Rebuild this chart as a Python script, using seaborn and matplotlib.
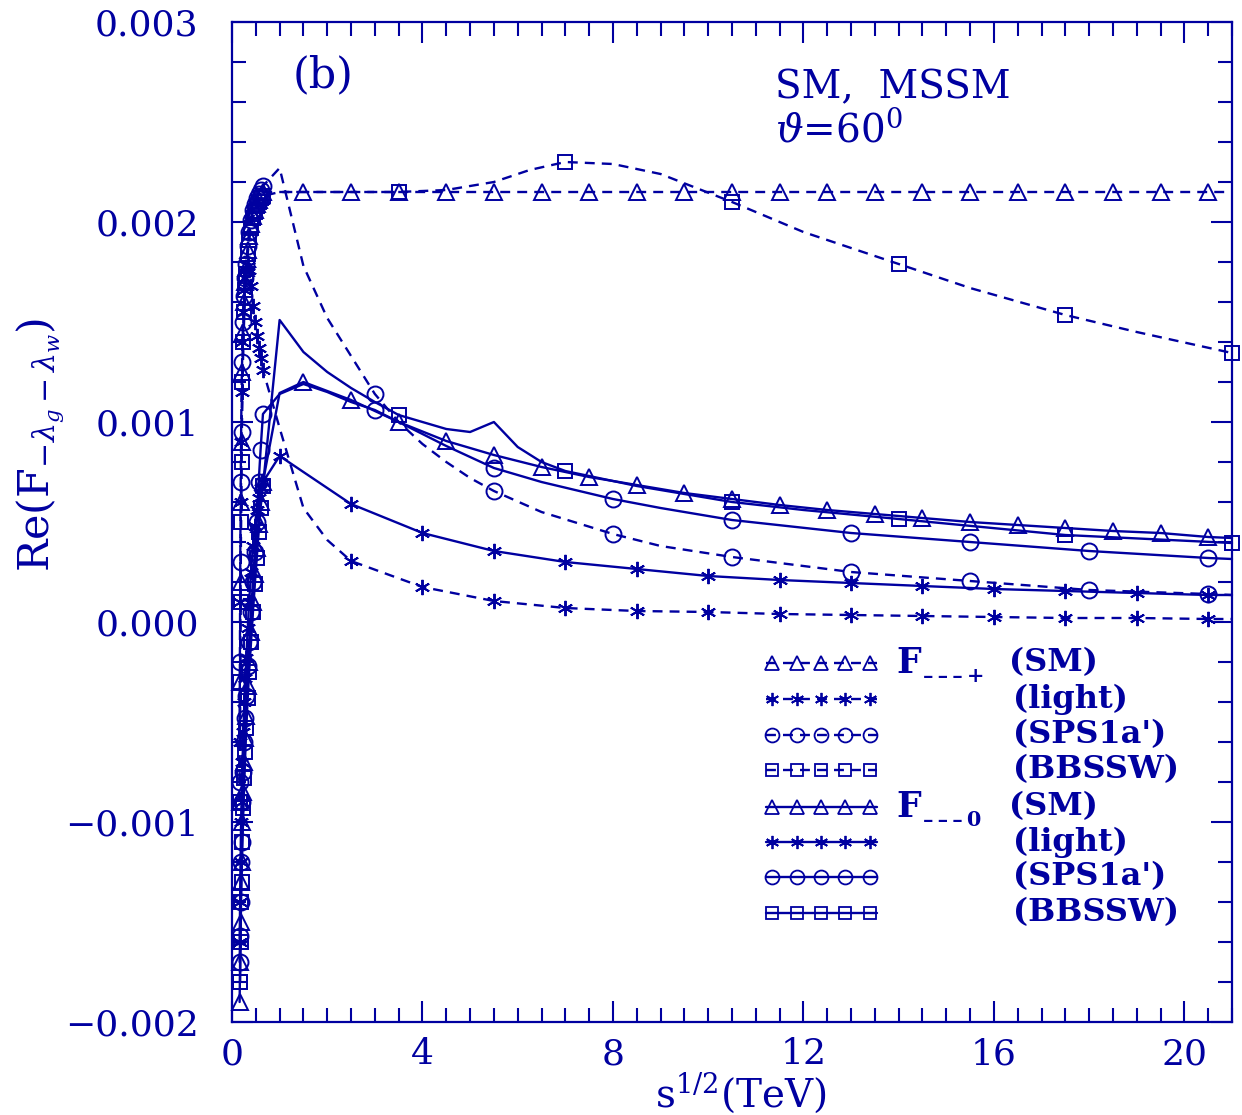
import matplotlib
matplotlib.use('Agg')
import matplotlib.pyplot as plt
from matplotlib.ticker import MultipleLocator, FuncFormatter
import pandas as pd
import seaborn as sns

NAVY = '#0000a0'

# gemeinsames Raster nahe der Schwelle (TeV)
x_low = [0.16, 0.17, 0.18, 0.19, 0.20, 0.22, 0.24, 0.26, 0.28, 0.30,
         0.33, 0.36, 0.40, 0.44, 0.48, 0.52, 0.56, 0.60, 0.65]

# --- F_{---+} (gestrichelt) ---
y_low_p_sm = [-0.0009, -0.0003, 0.0002, 0.0006, 0.0009, 0.00125, 0.00145, 0.0016, 0.0017, 0.00177,
              0.00186, 0.00193, 0.00199, 0.00203, 0.00206, 0.00209, 0.00211, 0.00213, 0.00215]
x_hi_p_sm = [1.5, 2.5, 3.5, 4.5, 5.5, 6.5, 7.5, 8.5, 9.5, 10.5, 11.5, 12.5, 13.5, 14.5,
             15.5, 16.5, 17.5, 18.5, 19.5, 20.5, 21.0]
y_hi_p_sm = [0.00215, 0.00215, 0.00215, 0.00215, 0.00215, 0.00215, 0.00215, 0.00215, 0.00215, 0.00215,
             0.00215, 0.00215, 0.00215, 0.00215, 0.00215, 0.00215, 0.00215, 0.00215, 0.00215, 0.00215, 0.00215]
mk_p_sm = x_hi_p_sm[:-1]

y_low_p_light = [-0.0006, 0.0001, 0.0006, 0.0009, 0.00115, 0.0014, 0.00155, 0.00166, 0.00172, 0.00176,
                 0.00178, 0.00176, 0.00168, 0.00158, 0.0015, 0.00143, 0.00137, 0.00132, 0.00126]
x_hi_p_light = [1.0, 1.5, 2.0, 2.5, 4.0, 5.5, 7.0, 8.5, 10.0, 11.5, 13.0, 14.5, 16.0, 17.5, 19.0, 20.5, 21.0]
y_hi_p_light = [0.00097, 0.00057, 0.00041, 0.000305, 0.000175, 0.000105, 0.00007, 0.000055, 0.00005,
                0.00004, 0.000035, 0.00003, 0.000025, 0.00002, 0.00002, 0.000015, 0.000015]
mk_p_light = [2.5, 4.0, 5.5, 7.0, 8.5, 10.0, 11.5, 13.0, 14.5, 16.0, 17.5, 19.0, 20.5]

y_low_p_sps = [-0.0008, -0.0002, 0.0003, 0.0007, 0.00095, 0.0013, 0.0015, 0.00163, 0.00172, 0.00179,
               0.00188, 0.00195, 0.00201, 0.00206, 0.00209, 0.00212, 0.00214, 0.00216, 0.00218]
x_hi_p_sps = [1.0, 1.5, 2.0, 2.5, 3.0, 3.5, 4.0, 4.5, 5.0, 5.5, 6.5, 8.0, 9.0, 10.5, 12.0, 13.0,
              15.5, 18.0, 20.5, 21.0]
y_hi_p_sps = [0.00227, 0.00178, 0.00152, 0.00133, 0.00114, 0.001, 0.00089, 0.0008, 0.00072, 0.000655,
              0.00055, 0.00044, 0.00038, 0.000325, 0.00028, 0.00025, 0.000205, 0.00016, 0.00014, 0.000135]
mk_p_sps = [3.0, 5.5, 8.0, 10.5, 13.0, 15.5, 18.0, 20.5]

y_low_p_bb = [-0.0009, -0.0003, 0.0001, 0.0005, 0.0008, 0.0012, 0.0014, 0.00155, 0.00166, 0.00174,
              0.00184, 0.00191, 0.00197, 0.00202, 0.00205, 0.00208, 0.0021, 0.00212, 0.00213]
x_hi_p_bb = [1.0, 2.0, 3.5, 4.5, 5.5, 6.25, 7.0, 8.0, 9.0, 10.5, 12.0, 14.0, 15.5, 17.5, 19.0, 21.0]
y_hi_p_bb = [0.00215, 0.00215, 0.00215, 0.00216, 0.0022, 0.00226, 0.0023, 0.00229, 0.00224, 0.0021,
             0.00195, 0.00179, 0.00167, 0.001535, 0.00145, 0.001345]
mk_p_bb = [3.5, 7.0, 10.5, 14.0, 17.5, 21.0]

# --- F_{---0} (durchgezogen) ---
y_low_0_sm = [-0.0019, -0.0017, -0.0015, -0.0013, -0.0012, -0.001, -0.00085, -0.0007, -0.00058, -0.00047,
              -0.00032, -0.0002, -0.00005, 0.0001, 0.00024, 0.00037, 0.00049, 0.0006, 0.0007]
x_hi_0_sm = [1.0, 1.5, 2.5, 3.5, 4.5, 5.5, 6.5, 7.5, 8.5, 9.5, 10.5, 11.5, 12.5, 13.5, 14.5,
             15.5, 16.5, 17.5, 18.5, 19.5, 20.5, 21.0]
y_hi_0_sm = [0.001145, 0.0012, 0.00111, 0.001, 0.000905, 0.000835, 0.000775, 0.000725, 0.000685, 0.000645,
             0.000615, 0.000585, 0.00056, 0.00054, 0.00052, 0.0005, 0.000485, 0.00047, 0.000455, 0.000445,
             0.000425, 0.00042]
mk_0_sm = x_hi_0_sm[1:-1]

y_low_0_light = [-0.0016, -0.0014, -0.0012, -0.001, -0.0009, -0.0007, -0.00055, -0.0004, -0.00028, -0.00018,
                 -0.00003, 0.0001, 0.00025, 0.00038, 0.00048, 0.00056, 0.00062, 0.00067, 0.0007]
x_hi_0_light = [1.0, 2.5, 4.0, 5.5, 7.0, 8.5, 10.0, 11.5, 13.0, 14.5, 16.0, 17.5, 19.0, 20.5, 21.0]
y_hi_0_light = [0.00083, 0.00059, 0.000445, 0.000355, 0.0003, 0.000265, 0.00023, 0.00021, 0.000195,
                0.00018, 0.000165, 0.000155, 0.000145, 0.000135, 0.000135]
mk_0_light = x_hi_0_light[:-1]

y_low_0_sps = [-0.0017, -0.00157, -0.0014, -0.0012, -0.0011, -0.0009, -0.00075, -0.0006, -0.00048, -0.00037,
               -0.00022, -0.0001, 0.00005, 0.0002, 0.00035, 0.0005, 0.0007, 0.00086, 0.00104]
x_hi_0_sps = [1.0, 1.5, 2.0, 2.5, 3.0, 3.5, 4.0, 4.5, 5.5, 6.5, 8.0, 9.0, 10.5, 13.0, 15.5, 18.0, 20.5, 21.0]
y_hi_0_sps = [0.00114, 0.00119, 0.00115, 0.0011, 0.00106, 0.001, 0.00094, 0.00088, 0.00077, 0.0007,
              0.000615, 0.00057, 0.00051, 0.000445, 0.0004, 0.000355, 0.00032, 0.000315]
mk_0_sps = [3.0, 5.5, 8.0, 10.5, 13.0, 15.5, 18.0, 20.5]

y_low_0_bb = [-0.0018, -0.0018, -0.0016, -0.0014, -0.0013, -0.0011, -0.00093, -0.00078, -0.00065, -0.00053,
              -0.00038, -0.00025, -0.0001, 0.00005, 0.00019, 0.00032, 0.00045, 0.00057, 0.00068]
x_hi_0_bb = [1.0, 1.5, 2.0, 2.5, 3.0, 3.5, 4.0, 4.5, 5.0, 5.5, 6.0, 6.5, 7.0, 8.5, 10.5, 12.0, 14.0, 17.5, 21.0]
y_hi_0_bb = [0.00151, 0.00135, 0.00125, 0.00117, 0.0011, 0.001035, 0.001, 0.000965, 0.00095, 0.001,
             0.000875, 0.0008, 0.000755, 0.00068, 0.0006, 0.00056, 0.000515, 0.000435, 0.000395]
mk_0_bb = [3.5, 7.0, 10.5, 14.0, 17.5, 21.0]

labels = ['(SM)', '(light)', "(SPS1a')", '(BBSSW)']
amp_sub = ['\u2013\u2009\u2013\u2009\u2013\u2009+', '\u2013\u2009\u2013\u2009\u2013\u20090']
markers = ['^', (6, 2, 0), 'o', 's']
msizes = [12, 11, 11.5, 10]
DASH = (0, (4.2, 3.0))
LW = 1.7


def build(y_low, x_hi, y_hi, marks):
    x = list(x_low) + list(x_hi)
    y = list(y_low) + list(y_hi)
    idx = list(range(len(x_low))) + [len(x_low) + i for i, v in enumerate(x_hi) if v in marks]
    return pd.DataFrame({'x': x, 'y': y}), idx


series = [
    (build(y_low_p_sm, x_hi_p_sm, y_hi_p_sm, mk_p_sm), 0, DASH),
    (build(y_low_p_light, x_hi_p_light, y_hi_p_light, mk_p_light), 1, DASH),
    (build(y_low_p_sps, x_hi_p_sps, y_hi_p_sps, mk_p_sps), 2, DASH),
    (build(y_low_p_bb, x_hi_p_bb, y_hi_p_bb, mk_p_bb), 3, DASH),
    (build(y_low_0_sm, x_hi_0_sm, y_hi_0_sm, mk_0_sm), 0, '-'),
    (build(y_low_0_light, x_hi_0_light, y_hi_0_light, mk_0_light), 1, '-'),
    (build(y_low_0_sps, x_hi_0_sps, y_hi_0_sps, mk_0_sps), 2, '-'),
    (build(y_low_0_bb, x_hi_0_bb, y_hi_0_bb, mk_0_bb), 3, '-'),
]

sns.set_theme(style='ticks')
plt.rcParams['font.family'] = ['DejaVu Serif']
plt.rcParams['mathtext.fontset'] = 'dejavuserif'

fig = plt.figure(figsize=(12.42, 11.15), dpi=100)
ax = fig.add_axes([232 / 1242, 1 - 1022 / 1115, 1000 / 1242, 1000 / 1115])

for (df, idx), k, ls in series:
    sns.lineplot(data=df, x='x', y='y', ax=ax, color=NAVY, lw=LW, linestyle=ls,
                 marker=markers[k], markersize=msizes[k], markevery=idx,
                 markerfacecolor='none', markeredgecolor=NAVY, markeredgewidth=1.4,
                 estimator=None, sort=False, errorbar=None, clip_on=False)

ax.set_xlim(0, 21)
ax.set_ylim(-0.002, 0.003)
ax.xaxis.set_major_locator(MultipleLocator(4))
ax.xaxis.set_minor_locator(MultipleLocator(0.5))
ax.yaxis.set_major_locator(MultipleLocator(0.001))
ax.yaxis.set_minor_locator(MultipleLocator(0.0002))
ax.yaxis.set_major_formatter(FuncFormatter(lambda v, p: f'{v:.3f}'.replace('-', '\u2212') if abs(v) > 1e-9 else '0.000'))
ax.xaxis.set_major_formatter(FuncFormatter(lambda v, p: f'{v:.0f}'))
ax.set_xlabel('')
ax.set_ylabel('')
ax.tick_params(which='both', direction='in', top=True, right=True, color=NAVY,
               labelcolor=NAVY, width=1.5)
ax.tick_params(which='major', length=15)
ax.tick_params(which='minor', length=10)
ax.tick_params(axis='y', which='major', pad=24, labelsize=26)
ax.tick_params(axis='x', which='major', pad=11, labelsize=26)
for sp in ax.spines.values():
    sp.set_color(NAVY)
    sp.set_linewidth(1.6)

# Beschriftungen
ax.text(0.061, 0.947, '(b)', transform=ax.transAxes, fontsize=31, color=NAVY, ha='left', va='center')
ax.text(0.543, 0.934, 'SM,  MSSM', transform=ax.transAxes, fontsize=28, color=NAVY, ha='left', va='center')
ax.text(0.543, 0.892, r'$\vartheta$=60$^{0}$', transform=ax.transAxes, fontsize=28, color=NAVY,
        ha='left', va='center')
fig.text(40 / 1242, 1 - 445 / 1115, r'Re(F$_{-\lambda_g-\lambda_w}$)', rotation=90, fontsize=31,
         color=NAVY, ha='center', va='center')
fig.text(741 / 1242, 1 - 1093 / 1115, r's$^{1/2}$(TeV)', fontsize=28, color=NAVY, ha='center', va='center')

# Legende von Hand
row_y = [0.359, 0.323, 0.287, 0.252, 0.215, 0.180, 0.145, 0.109]
sample_x = [0.534, 0.540, 0.565, 0.589, 0.613, 0.638, 0.645]
for r, ((df, idx), k, ls) in enumerate(series):
    ax.plot(sample_x, [row_y[r]] * len(sample_x), transform=ax.transAxes, color=NAVY, lw=LW,
            linestyle=ls, marker=markers[k], markersize=msizes[k] - 1.5, markevery=[1, 2, 3, 4, 5],
            markerfacecolor='none', markeredgecolor=NAVY, markeredgewidth=1.3, clip_on=False)
    ax.text(0.781 if k else 0.777, row_y[r], labels[k], transform=ax.transAxes, fontsize=23,
            fontweight='bold', color=NAVY, ha='left', va='center')
for r, sub in zip([0, 4], amp_sub):
    ax.text(0.664, row_y[r], 'F', transform=ax.transAxes, fontsize=25, fontweight='bold',
            color=NAVY, ha='left', va='center')
    ax.text(0.691, row_y[r] - 0.013, sub, transform=ax.transAxes, fontsize=15, fontweight='bold',
            color=NAVY, ha='left', va='center')

fig.savefig('out.png', dpi=100)
